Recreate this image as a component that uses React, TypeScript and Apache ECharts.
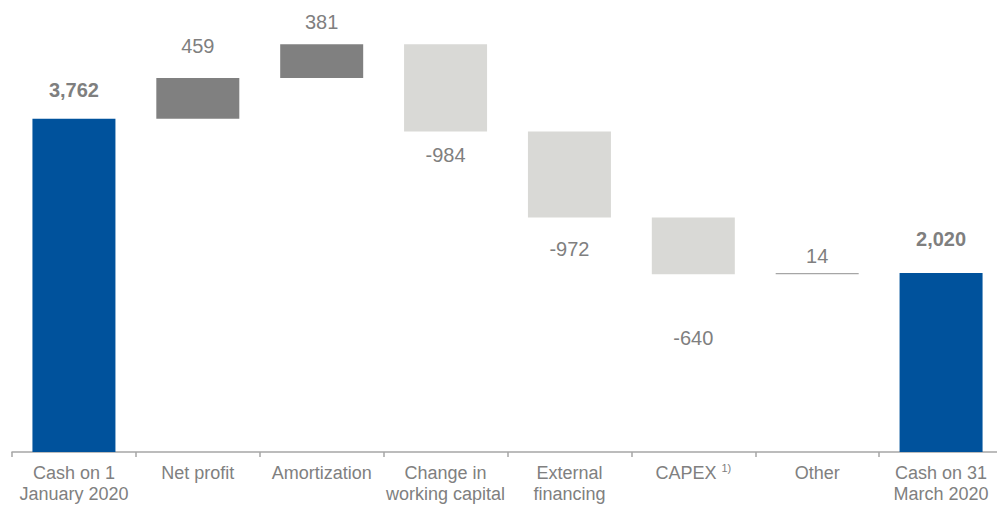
import React, { useEffect, useRef } from "react";
import * as echarts from "echarts";

const categories = [
  "Cash on 1\nJanuary 2020",
  "Net profit",
  "Amortization",
  "Change in\nworking capital",
  "External\nfinancing",
  "CAPEX {sup|1)}",
  "Other",
  "Cash on 31\nMarch 2020",
];
const values = [3762, 459, 381, -984, -972, -640, 14, 2020];
const isTotal = [true, false, false, false, false, false, false, true];

// styling only
const labelDistances = [19, 22, 12, 14, 21, 54, 7, 24];
const FONT = "'Liberation Sans', Arial, Helvetica, sans-serif";

export default function App() {
  const ref = useRef<HTMLDivElement>(null);
  useEffect(() => {
    if (!ref.current) return;
    const chart = echarts.init(ref.current, undefined, { renderer: "svg" });

    let running = 0;
    const baseData: number[] = [];
    const barData: any[] = [];
    values.forEach((v, i) => {
      let base: number;
      if (isTotal[i]) {
        base = 0;
        running = v;
      } else {
        base = v >= 0 ? running : running + v;
        running += v;
      }
      baseData.push(base);
      const color = isTotal[i]
        ? "#00529C"
        : v < 0
        ? "#D9D9D6"
        : Math.abs(v) < 50
        ? "#A6A6A6"
        : "#808080";
      const labelText = isTotal[i]
        ? v.toLocaleString("en-US")
        : String(v);
      barData.push({
        value: Math.abs(v),
        itemStyle: { color },
        label: {
          show: true,
          position: v >= 0 ? "top" : "bottom",
          distance: labelDistances[i],
          formatter: labelText,
          fontWeight: isTotal[i] ? "bold" : "normal",
          fontSize: 20,
          color: "#7F7F7F",
          fontFamily: FONT,
        },
      });
    });

    chart.setOption({
      animation: false,
      grid: { left: 12, right: 1, top: 9, bottom: 53, containLabel: false },
      xAxis: {
        type: "category",
        data: categories,
        boundaryGap: true,
        axisLine: { show: true, lineStyle: { color: "#A6A6A6", width: 1.5 } },
        axisTick: { show: true, length: 5, lineStyle: { color: "#A6A6A6", width: 1.5 } },
        axisLabel: {
          interval: 0,
          color: "#808080",
          fontSize: 18,
          lineHeight: 21,
          margin: 10,
          fontFamily: FONT,
          rich: {
            sup: {
              fontSize: 11,
              color: "#808080",
              verticalAlign: "top",
              lineHeight: 21,
              padding: [0, 0, 8, 0],
              fontFamily: FONT,
            },
          },
        },
      },
      yAxis: {
        type: "value",
        min: 0,
        max: 5000,
        show: false,
        splitLine: { show: false },
      },
      series: [
        {
          type: "bar",
          stack: "w",
          data: baseData,
          itemStyle: { color: "transparent" },
          barWidth: 83,
          silent: true,
        },
        {
          type: "bar",
          stack: "w",
          data: barData,
          barWidth: 83,
        },
      ],
    });
    return () => chart.dispose();
  }, []);

  return (
    <div
      ref={ref}
      style={{ position: "fixed", left: 0, top: 0, width: 1004, height: 505, background: "#fff" }}
    />
  );
}
